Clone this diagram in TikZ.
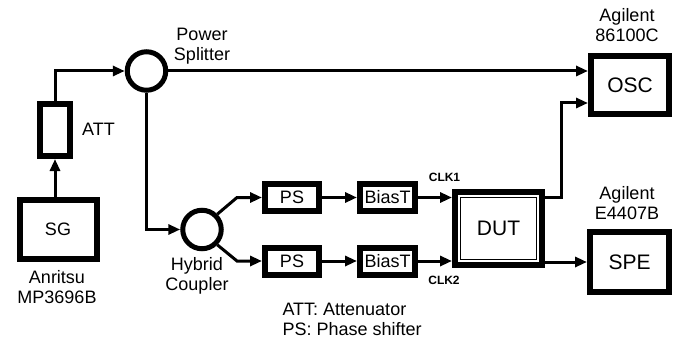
\documentclass[tikz,border=0pt]{standalone}
\usepackage{fontspec}
\setmainfont{Liberation Sans}
\usetikzlibrary{positioning, arrows.meta, calc}

\begin{document}
\begin{tikzpicture}[x=1pt, y=1pt, font=\fontsize{18}{20}\selectfont,
    unit/.style={draw, line width=6pt, inner sep=0pt, align=center},
    comp/.style={unit, minimum width=54pt, minimum height=27pt},
    hub/.style={draw, circle, line width=5pt, minimum size=38.5pt, inner sep=0pt},
    link/.style={line width=3pt, -{Triangle[length=12pt, width=10pt]}},
    big/.style={font=\fontsize{21}{24}\selectfont},
    clk/.style={font=\fontsize{12}{14}\selectfont\bfseries}]
    \useasboundingbox (0,0) rectangle (679,343);

    % Source and attenuator
    \node[unit, minimum width=77pt, minimum height=59pt] (sg) at (58,113.5) {SG};
    \node[align=center] (sg-name) at (57,56) {Anritsu\\MP3696B};
    \node[unit, minimum width=30pt, minimum height=52pt] (att) at (55,213) {};
    \node (att-name) at (98.5,214) {ATT};

    % Splitter and coupler
    \node[hub] (split) at (146.5,272) {};
    \node[align=center] (split-name) at (202,297) {Power\\Splitter};
    \node[hub] (hyb) at (202,113.5) {};
    \node[align=center] (hyb-name) at (197,67.5) {Hybrid\\Coupler};

    % Phase shifters and bias tees
    \node[comp] (ps1) at (292,145.5) {PS};
    \node[comp] (ps2) at (292,82) {PS};
    \node[comp, minimum width=55pt] (bt1) at (387.5,145.5) {BiasT};
    \node[comp, minimum width=55pt] (bt2) at (387.5,82) {BiasT};

    % Device under test
    \node[unit, big, minimum width=87pt, minimum height=73pt] (dut) at (498.5,114.5) {DUT};
    \draw[line width=1.6pt] ($(dut.south west)+(8.5,8.5)$) rectangle ($(dut.north east)-(8.5,8.5)$);
    \node[clk] (clk1) at (444.5,166) {CLK1};
    \node[clk] (clk2) at (444,63) {CLK2};

    % Instruments
    \node[unit, big, minimum width=78pt, minimum height=58pt] (osc) at (630,258) {OSC};
    \node[align=center] (osc-name) at (627,318) {Agilent\\86100C};
    \node[unit, big, minimum width=79pt, minimum height=60pt] (spe) at (629.5,81) {SPE};
    \node[align=center] (spe-name) at (627,140) {Agilent\\E4407B};

    % Legend
    \node[anchor=west, align=left] (legend) at (279,24) {ATT: Attenuator\\PS: Phase shifter};

    % Connections
    \draw[link] (att.south |- sg.north) -- (att.south);
    \draw[link] (att.north) |- (split.west);
    \draw[link] (split.east) -- (split.east -| osc.west);
    \draw[link] (split.south) |- (hyb.west);
    \draw[link] (hyb.45) -- ($(ps1.west)+(-25,0)$) -- (ps1.west);
    \draw[link] (hyb.-45) -- ($(ps2.west)+(-25,0)$) -- (ps2.west);
    \draw[link] (ps1.east) -- (bt1.west);
    \draw[link] (ps2.east) -- (bt2.west);
    \draw[link] (bt1.east) -- (bt1.east -| dut.west);
    \draw[link] (bt2.east) -- (bt2.east -| dut.west);
    \draw[link] (dut.east |- bt1.east) -- ++(16,0) |- ([yshift=-18pt]osc.west);
    \draw[link] (dut.east |- spe.west) -- (spe.west);
\end{tikzpicture}
\end{document}
